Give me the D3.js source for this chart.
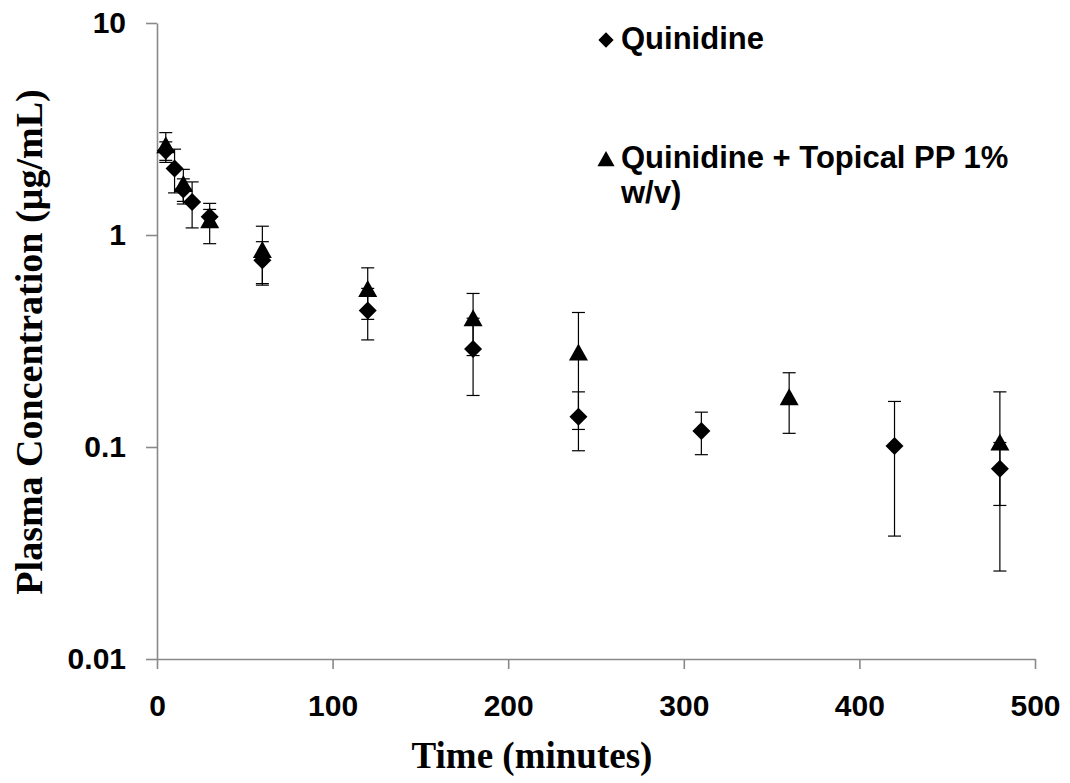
<!DOCTYPE html>
<html>
<head>
<meta charset="utf-8">
<script src="https://cdn.jsdelivr.net/npm/d3@7"></script>
<style>
  html, body { margin: 0; padding: 0; background: #fff; }
  svg { display: block; }
</style>
</head>
<body>
<svg id="chart" width="1070" height="783"></svg>
<script>
// Plasma concentration–time profile, mean ± SD (µg/mL) on a log axis
const quinTimes = [5, 10, 15, 20, 30, 60, 120, 180, 240, 310, 420, 480];
const quinMeans = [2.5, 2.06, 1.64, 1.43, 1.22, 0.76, 0.44, 0.29, 0.139, 0.119, 0.101, 0.079];
const quinSD    = [0.25, 0.48, 0.2, 0.35, 0.1, 0.17, 0.12, 0.115, 0.043, 0.027, 0.063, 0.026];

const ppTimes = [5, 15, 30, 60, 120, 180, 240, 360, 480];
const ppMeans = [2.62, 1.72, 1.16, 0.84, 0.55, 0.40, 0.276, 0.17, 0.104];
const ppSD    = [0.42, 0.32, 0.25, 0.26, 0.15, 0.13, 0.155, 0.054, 0.078];

const xTicks = [0, 100, 200, 300, 400, 500];
const yTicks = [0.01, 0.1, 1, 10];
const yTickLabels = ["0.01", "0.1", "1", "10"];

const seriesNames = ["Quinidine", "Quinidine + Topical PP 1%", "w/v)"];

const svg = d3.select("#chart");
const axisColor = "#898989";
const sansBold = "'Liberation Sans', Arial, sans-serif";
const serifBold = "'Liberation Serif', 'Times New Roman', serif";

const x = d3.scaleLinear().domain([0, 500]).range([157, 1035]);
const y = d3.scaleLog().domain([0.01, 10]).range([659, 23]);

// Axes
const xAxis = svg.append("g")
  .attr("transform", `translate(0,${y(0.01)})`)
  .call(d3.axisBottom(x).tickValues(xTicks).tickSize(10).tickSizeOuter(0).tickPadding(26).tickFormat(d3.format("d")));
const yAxis = svg.append("g")
  .attr("transform", `translate(${x(0)},0)`)
  .call(d3.axisLeft(y).tickValues(yTicks).tickSize(11).tickSizeOuter(0).tickPadding(20)
        .tickFormat((d, i) => yTickLabels[i]));

[xAxis, yAxis].forEach(g => {
  g.select(".domain").attr("stroke", axisColor).attr("stroke-width", 1.6);
  g.selectAll(".tick line").attr("stroke", axisColor).attr("stroke-width", 1.6);
  g.selectAll(".tick text")
    .attr("fill", "#000")
    .style("font-family", sansBold)
    .style("font-weight", "bold")
    .style("font-size", "30px");
});
xAxis.selectAll(".tick text").attr("dy", "0.71em");

// Axis titles
svg.append("text")
  .attr("x", 532).attr("y", 768)
  .attr("text-anchor", "middle")
  .style("font-family", serifBold).style("font-weight", "bold").style("font-size", "37px")
  .text("Time (minutes)");
svg.append("text")
  .attr("transform", "translate(42,342) rotate(-90)")
  .attr("text-anchor", "middle")
  .style("font-family", serifBold).style("font-weight", "bold").style("font-size", "38px")
  .text("Plasma Concentration (µg/mL)");

// Build rows for each series
const quinRows = quinTimes.map((t, i) => ({ t, m: quinMeans[i], sd: quinSD[i] }));
const ppRows = ppTimes.map((t, i) => ({ t, m: ppMeans[i], sd: ppSD[i] }));

const diamond = d3.symbol().type(d3.symbolSquare).size(162)();
const triangle = "M0,-10 L9.5,7 L-9.5,7 Z";

function drawSeries(rows, shapePath, rotate) {
  const g = svg.append("g");
  const capW = 6.5;
  const eb = g.selectAll("g.eb").data(rows).join("g").attr("class", "eb")
    .attr("stroke", "#000").attr("stroke-width", 1.2).attr("fill", "none");
  eb.append("line")
    .attr("x1", d => x(d.t)).attr("x2", d => x(d.t))
    .attr("y1", d => y(d.m + d.sd)).attr("y2", d => y(Math.max(d.m - d.sd, 0.0101)));
  eb.append("line")
    .attr("x1", d => x(d.t) - capW).attr("x2", d => x(d.t) + capW)
    .attr("y1", d => y(d.m + d.sd)).attr("y2", d => y(d.m + d.sd));
  eb.append("line")
    .attr("x1", d => x(d.t) - capW).attr("x2", d => x(d.t) + capW)
    .attr("y1", d => y(d.m - d.sd)).attr("y2", d => y(d.m - d.sd));
  g.selectAll("path.mk").data(rows).join("path").attr("class", "mk")
    .attr("d", shapePath)
    .attr("fill", "#000")
    .attr("transform", d => `translate(${x(d.t)},${y(d.m)})${rotate ? " rotate(45)" : ""}`);
}

drawSeries(quinRows, diamond, true);
drawSeries(ppRows, triangle, false);

// Legend
const legend = svg.append("g")
  .style("font-family", sansBold).style("font-weight", "bold").style("font-size", "31px");
legend.append("path").attr("d", diamond).attr("fill", "#000")
  .attr("transform", "translate(606,40) rotate(45) scale(0.85)");
legend.append("text").attr("x", 621).attr("y", 49).text(seriesNames[0]);
legend.append("path").attr("d", triangle).attr("fill", "#000")
  .attr("transform", "translate(606,160) scale(0.9)");
legend.append("text").attr("x", 621).attr("y", 168).text(seriesNames[1]);
legend.append("text").attr("x", 621).attr("y", 203).text(seriesNames[2]);
</script>
</body>
</html>
